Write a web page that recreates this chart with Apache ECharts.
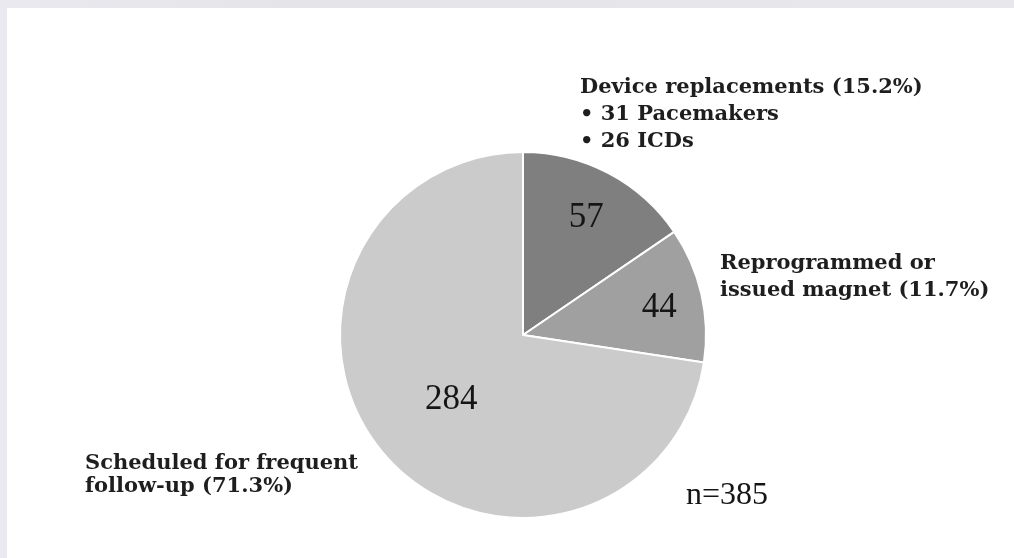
<!DOCTYPE html>
<html>
<head>
<meta charset="utf-8">
<script src="https://cdn.jsdelivr.net/npm/echarts@6/dist/echarts.min.js"></script>
<style>
  html, body { margin: 0; padding: 0; width: 1014px; height: 558px; overflow: hidden;
    background: linear-gradient(90deg, #e9e9ef 0%, #e4e4e9 30%, #e8e8ec 100%); }
  #chart { position: absolute; left: 7px; top: 8px; width: 1007px; height: 550px; background: #ffffff; }
</style>
</head>
<body>
<div id="chart"></div>
<script>
// ---- data ----
const categories = ['Device replacements', 'Reprogrammed or issued magnet', 'Scheduled for frequent follow-up'];
const counts = [57, 44, 284];            // numbers printed in the slices
const percents = [15.2, 11.7, 71.3];     // slice sizes as printed in the labels
const sliceColors = ['#7f7f7f', '#a0a0a0', '#cbcbcb'];
const outerLabels = [
  'Device replacements (15.2%)\n• 31 Pacemakers\n• 26 ICDs',
  'Reprogrammed or\nissued magnet (11.7%)',
  'Scheduled for frequent\nfollow-up (71.3%)'
];
const totalLabel = 'n=385';

// ---- layout / styling (not data) ----
const center = [516, 327];
const radius = 183;
const innerLabelOffsets = [[19, -34], [44, -6], [0, 3]];
const outerLabelPos = [[573, 66], [713, 242], [78, 444]];
const outerLineHeights = [27, 27, 23];
const serif = '"Liberation Serif", "DejaVu Serif", serif';
const labelSerif = '"DejaVu Serif", "Liberation Serif", serif';

const chart = echarts.init(document.getElementById('chart'), null, { renderer: 'canvas' });

const pieData = percents.map((v, i) => ({
  name: categories[i],
  value: v,
  itemStyle: { color: sliceColors[i] },
  label: { offset: innerLabelOffsets[i] }
}));

const labelData = percents.map((v, i) => ({
  name: categories[i],
  value: v,
  itemStyle: { color: 'rgba(0,0,0,0)' },
  label: { lineHeight: outerLineHeights[i] }
}));

chart.setOption({
  backgroundColor: '#ffffff',
  animation: false,
  series: [
    {
      type: 'pie',
      center: center,
      radius: [0, radius],
      startAngle: 90,
      clockwise: true,
      silent: true,
      data: pieData,
      itemStyle: { borderColor: '#ffffff', borderWidth: 2 },
      label: {
        show: true,
        position: 'inside',
        formatter: p => String(counts[p.dataIndex]),
        fontFamily: serif,
        fontSize: 35,
        color: '#151515'
      },
      labelLine: { show: false }
    },
    {
      type: 'pie',
      center: center,
      radius: [0, radius],
      startAngle: 90,
      clockwise: true,
      silent: true,
      z: 5,
      data: labelData,
      itemStyle: { borderWidth: 0 },
      label: {
        show: true,
        position: 'outside',
        formatter: p => outerLabels[p.dataIndex],
        fontFamily: labelSerif,
        fontWeight: 'bold',
        fontSize: 21,
        color: '#1e1e1e',
        align: 'left',
        overflow: 'none',
        width: 400
      },
      labelLine: { show: false },
      labelLayout: p => ({
        x: outerLabelPos[p.dataIndex][0],
        y: outerLabelPos[p.dataIndex][1],
        align: 'left',
        verticalAlign: 'top',
        draggable: false
      })
    }
  ],
  graphic: [
    {
      type: 'text',
      left: 679,
      top: 472,
      style: {
        text: totalLabel,
        font: '32px ' + serif,
        fill: '#151515'
      }
    }
  ]
});
</script>
</body>
</html>
